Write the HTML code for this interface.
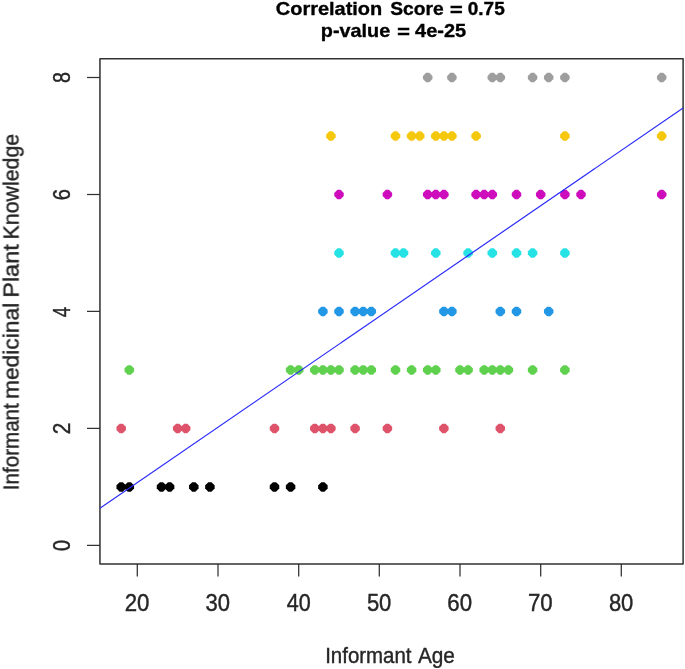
<!DOCTYPE html>
<html><head><meta charset="utf-8"><title>Correlation plot</title>
<style>
html,body{margin:0;padding:0;background:#fff;}
body{width:685px;height:669px;overflow:hidden;}
svg{display:block;}
text{font-family:"Liberation Sans",sans-serif;}
</style></head><body>
<svg width="685" height="669" viewBox="0 0 685 669">
<rect width="685" height="669" fill="#ffffff"/>
<defs><polygon id="d" points="-1.57,-4.75 1.57,-4.75 4.75,-1.57 4.75,1.57 1.57,4.75 -1.57,4.75 -4.75,1.57 -4.75,-1.57" stroke-linejoin="round"/><filter id="bl" x="0" y="0" width="685" height="669" filterUnits="userSpaceOnUse"><feGaussianBlur stdDeviation="0.55"/></filter></defs>
<g filter="url(#bl)">
<g font-weight="bold" font-size="18.5" fill="#000" stroke="#000" stroke-width="0.35">
<text x="275.79" y="14.8" textLength="106.49" lengthAdjust="spacingAndGlyphs">Correlation</text><text x="390.18" y="14.8" textLength="53.42" lengthAdjust="spacingAndGlyphs">Score</text><text x="449.92" y="15.700000000000001" textLength="12.62" lengthAdjust="spacingAndGlyphs" stroke="#000" stroke-width="0.6">=</text><text x="467.73" y="14.8" textLength="37.00" lengthAdjust="spacingAndGlyphs">0.75</text>
<text x="320.86" y="37.0" textLength="69.41" lengthAdjust="spacingAndGlyphs">p-value</text><text x="397.32" y="37.9" textLength="12.62" lengthAdjust="spacingAndGlyphs" stroke="#000" stroke-width="0.6">=</text><text x="415.13" y="37.0" textLength="51.09" lengthAdjust="spacingAndGlyphs">4e-25</text>
</g>
<g fill="#000000"><use href="#d" x="121.2" y="486.9"/><use href="#d" x="129.3" y="486.9"/><use href="#d" x="161.5" y="486.9"/><use href="#d" x="169.6" y="486.9"/><use href="#d" x="193.8" y="486.9"/><use href="#d" x="209.9" y="486.9"/><use href="#d" x="274.5" y="486.9"/><use href="#d" x="290.6" y="486.9"/><use href="#d" x="322.9" y="486.9"/></g>
<g fill="#DF536B"><use href="#d" x="121.2" y="428.4"/><use href="#d" x="177.7" y="428.4"/><use href="#d" x="185.7" y="428.4"/><use href="#d" x="274.5" y="428.4"/><use href="#d" x="314.8" y="428.4"/><use href="#d" x="322.9" y="428.4"/><use href="#d" x="330.9" y="428.4"/><use href="#d" x="355.1" y="428.4"/><use href="#d" x="387.4" y="428.4"/><use href="#d" x="443.9" y="428.4"/><use href="#d" x="500.3" y="428.4"/></g>
<g fill="#61D04F"><use href="#d" x="129.3" y="369.9"/><use href="#d" x="290.6" y="369.9"/><use href="#d" x="298.7" y="369.9"/><use href="#d" x="314.8" y="369.9"/><use href="#d" x="322.9" y="369.9"/><use href="#d" x="330.9" y="369.9"/><use href="#d" x="339.0" y="369.9"/><use href="#d" x="355.1" y="369.9"/><use href="#d" x="363.2" y="369.9"/><use href="#d" x="371.3" y="369.9"/><use href="#d" x="395.5" y="369.9"/><use href="#d" x="411.6" y="369.9"/><use href="#d" x="427.7" y="369.9"/><use href="#d" x="435.8" y="369.9"/><use href="#d" x="460.0" y="369.9"/><use href="#d" x="468.1" y="369.9"/><use href="#d" x="484.2" y="369.9"/><use href="#d" x="492.3" y="369.9"/><use href="#d" x="500.3" y="369.9"/><use href="#d" x="508.4" y="369.9"/><use href="#d" x="532.6" y="369.9"/><use href="#d" x="564.9" y="369.9"/></g>
<g fill="#2297E6"><use href="#d" x="322.9" y="311.4"/><use href="#d" x="339.0" y="311.4"/><use href="#d" x="355.1" y="311.4"/><use href="#d" x="363.2" y="311.4"/><use href="#d" x="371.3" y="311.4"/><use href="#d" x="443.9" y="311.4"/><use href="#d" x="451.9" y="311.4"/><use href="#d" x="500.3" y="311.4"/><use href="#d" x="516.5" y="311.4"/><use href="#d" x="548.7" y="311.4"/></g>
<g fill="#28E2E5"><use href="#d" x="339.0" y="253.0"/><use href="#d" x="395.5" y="253.0"/><use href="#d" x="403.5" y="253.0"/><use href="#d" x="435.8" y="253.0"/><use href="#d" x="468.1" y="253.0"/><use href="#d" x="492.3" y="253.0"/><use href="#d" x="516.5" y="253.0"/><use href="#d" x="532.6" y="253.0"/><use href="#d" x="564.9" y="253.0"/></g>
<g fill="#CD0BBC"><use href="#d" x="339.0" y="194.5"/><use href="#d" x="387.4" y="194.5"/><use href="#d" x="427.7" y="194.5"/><use href="#d" x="435.8" y="194.5"/><use href="#d" x="443.9" y="194.5"/><use href="#d" x="476.1" y="194.5"/><use href="#d" x="484.2" y="194.5"/><use href="#d" x="492.3" y="194.5"/><use href="#d" x="516.5" y="194.5"/><use href="#d" x="540.7" y="194.5"/><use href="#d" x="564.9" y="194.5"/><use href="#d" x="581.0" y="194.5"/><use href="#d" x="661.7" y="194.5"/></g>
<g fill="#F5C710"><use href="#d" x="330.9" y="136.0"/><use href="#d" x="395.5" y="136.0"/><use href="#d" x="411.6" y="136.0"/><use href="#d" x="419.7" y="136.0"/><use href="#d" x="435.8" y="136.0"/><use href="#d" x="443.9" y="136.0"/><use href="#d" x="451.9" y="136.0"/><use href="#d" x="476.1" y="136.0"/><use href="#d" x="564.9" y="136.0"/><use href="#d" x="661.7" y="136.0"/></g>
<g fill="#9E9E9E"><use href="#d" x="427.7" y="77.5"/><use href="#d" x="451.9" y="77.5"/><use href="#d" x="492.3" y="77.5"/><use href="#d" x="500.3" y="77.5"/><use href="#d" x="532.6" y="77.5"/><use href="#d" x="548.7" y="77.5"/><use href="#d" x="564.9" y="77.5"/><use href="#d" x="661.7" y="77.5"/></g>
<rect x="99.95" y="58.7" width="583.15" height="505.2" fill="none" stroke="#303030" stroke-width="1.5" stroke-linejoin="round"/>
<line x1="99.95" y1="508.3" x2="683.1" y2="108.0" stroke="#2a2af8" stroke-width="1.15"/>
<g stroke="#303030" stroke-width="1.25">
<line x1="137.3" y1="563.9" x2="137.3" y2="576.5"/><line x1="218.0" y1="563.9" x2="218.0" y2="576.5"/><line x1="298.7" y1="563.9" x2="298.7" y2="576.5"/><line x1="379.3" y1="563.9" x2="379.3" y2="576.5"/><line x1="460.0" y1="563.9" x2="460.0" y2="576.5"/><line x1="540.7" y1="563.9" x2="540.7" y2="576.5"/><line x1="621.3" y1="563.9" x2="621.3" y2="576.5"/><line x1="87" y1="545.4" x2="99.95" y2="545.4"/><line x1="87" y1="428.4" x2="99.95" y2="428.4"/><line x1="87" y1="311.4" x2="99.95" y2="311.4"/><line x1="87" y1="194.5" x2="99.95" y2="194.5"/><line x1="87" y1="77.5" x2="99.95" y2="77.5"/>
</g>
<g font-size="23.4" fill="#262626" stroke="#262626" stroke-width="0.4">
<text x="124.64" y="611.0" textLength="24.77" lengthAdjust="spacingAndGlyphs">20</text><text x="205.56" y="611.0" textLength="24.51" lengthAdjust="spacingAndGlyphs">30</text><text x="286.70" y="611.0" textLength="24.01" lengthAdjust="spacingAndGlyphs">40</text><text x="366.89" y="611.0" textLength="24.51" lengthAdjust="spacingAndGlyphs">50</text><text x="447.31" y="611.0" textLength="24.77" lengthAdjust="spacingAndGlyphs">60</text><text x="527.97" y="611.0" textLength="24.77" lengthAdjust="spacingAndGlyphs">70</text><text x="608.89" y="611.0" textLength="24.51" lengthAdjust="spacingAndGlyphs">80</text>
<text transform="translate(69.8,545.6) rotate(-90)" x="-5.50" y="0" textLength="11.00" lengthAdjust="spacingAndGlyphs">0</text><text transform="translate(69.8,428.6) rotate(-90)" x="-5.76" y="0" textLength="11.53" lengthAdjust="spacingAndGlyphs">2</text><text transform="translate(69.8,312.2) rotate(-90)" x="-5.05" y="0" textLength="10.30" lengthAdjust="spacingAndGlyphs">4</text><text transform="translate(69.8,194.5) rotate(-90)" x="-5.73" y="0" textLength="11.26" lengthAdjust="spacingAndGlyphs">6</text><text transform="translate(69.8,77.6) rotate(-90)" x="-5.50" y="0" textLength="11.00" lengthAdjust="spacingAndGlyphs">8</text>
</g>
<g font-size="22.2" fill="#262626" stroke="#262626" stroke-width="0.4">
<text x="325.16" y="662.6" textLength="86.36" lengthAdjust="spacingAndGlyphs">Informant</text><text x="417.90" y="662.6" textLength="37.02" lengthAdjust="spacingAndGlyphs">Age</text>
<g transform="translate(18.6,0) rotate(-90)"><text x="-490.15" y="0" textLength="86.87" lengthAdjust="spacingAndGlyphs">Informant</text><text x="-399.14" y="0" textLength="96.37" lengthAdjust="spacingAndGlyphs">medicinal</text><text x="-297.75" y="0" textLength="53.43" lengthAdjust="spacingAndGlyphs">Plant</text><text x="-239.38" y="0" textLength="105.59" lengthAdjust="spacingAndGlyphs">Knowledge</text></g>
</g>
</g>
</svg>
</body></html>
